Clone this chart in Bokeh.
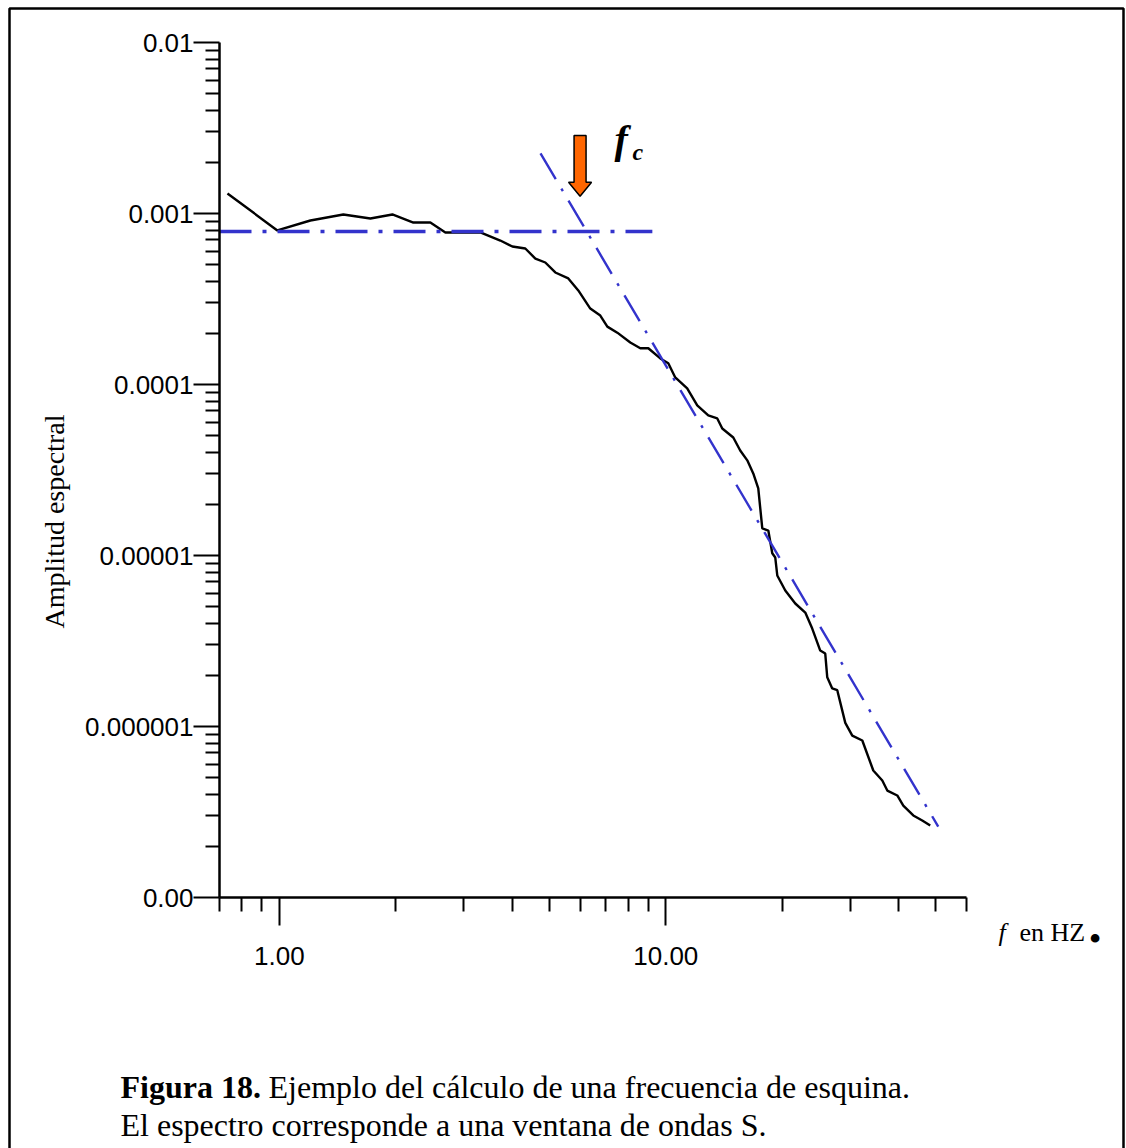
from bokeh.plotting import figure
from bokeh.models import FixedTicker, CustomJSTickFormatter, Label, BoxAnnotation, Range1d
from bokeh.embed import file_html
from bokeh.resources import INLINE
import math

# ---------------- data ----------------
freq = [0.734, 0.988, 1.203, 1.464, 1.720, 1.961, 2.222, 2.459, 2.689, 3.312,
        3.731, 4.008, 4.330, 4.597, 4.878, 5.177, 5.594, 5.937, 6.377, 6.769,
        7.058, 7.491, 8.093, 8.591, 9.011, 9.678, 10.15, 10.58, 11.36, 12.06,
        12.88, 13.59, 14.00, 14.95, 15.58, 16.25, 16.84, 17.35, 17.77, 18.42,
        18.86, 19.20, 19.43, 20.38, 21.63, 22.96, 23.93, 25.10, 25.86, 26.17,
        26.96, 27.78, 29.14, 30.38, 32.25, 34.43, 36.33, 37.43, 39.72, 41.17,
        43.70, 46.09, 48.34]
amp = [1.31e-3, 7.96e-4, 9.10e-4, 9.87e-4, 9.35e-4, 9.87e-4, 8.85e-4, 8.85e-4, 7.75e-4, 7.75e-4,
       6.95e-4, 6.41e-4, 6.24e-4, 5.45e-4, 5.17e-4, 4.52e-4, 4.17e-4, 3.55e-4, 2.78e-4, 2.53e-4,
       2.18e-4, 2.01e-4, 1.76e-4, 1.63e-4, 1.63e-4, 1.42e-4, 1.33e-4, 1.10e-4, 9.48e-5, 7.54e-5,
       6.59e-5, 6.33e-5, 5.53e-5, 4.90e-5, 4.11e-5, 3.60e-5, 3.02e-5, 2.47e-5, 1.44e-5, 1.40e-5,
       1.03e-5, 9.73e-6, 7.64e-6, 6.24e-6, 5.24e-6, 4.64e-6, 3.74e-6, 2.78e-6, 2.67e-6, 1.94e-6,
       1.67e-6, 1.63e-6, 1.05e-6, 8.85e-7, 8.28e-7, 5.53e-7, 4.83e-7, 4.22e-7, 3.95e-7, 3.45e-7,
       3.02e-7, 2.82e-7, 2.64e-7]

plateau_f = [0.7, 9.23]
plateau_amp = [7.85e-4, 7.85e-4]
slope_f = [4.74, 50.7]
slope_amp = [2.25e-3, 2.60e-7]

fc = 6.0
arrow_top = 2.86e-3
arrow_tip = 1.26e-3

x_bounds = (0.7, 60)
y_bounds = (1e-7, 1e-2)
x_major = [1, 10]
x_labels = ["1.00", "10.00"]
x_minor = [0.7, 0.8, 0.9, 2, 3, 4, 5, 6, 7, 8, 9, 20, 30, 40, 50, 60]
y_major = [1e-7, 1e-6, 1e-5, 1e-4, 1e-3, 1e-2]
y_labels = ["0.00", "0.000001", "0.00001", "0.0001", "0.001", "0.01"]
y_minor = [k * 10.0 ** e for e in range(-7, -2) for k in range(2, 10)]

# ---------------- layout (pixels) ----------------
W, H = 1126, 1148
AX_L, AX_R, AX_T, AX_B = 219, 966, 42, 897      # where the axes box sits on the page
BLUE = "#3333cc"

pxd_x = (AX_R - AX_L) / math.log10(x_bounds[1] / x_bounds[0])
pxd_y = (AX_B - AX_T) / math.log10(y_bounds[1] / y_bounds[0])
x_lo = x_bounds[0] / 10 ** (AX_L / pxd_x)
x_hi = x_bounds[1] * 10 ** ((W - AX_R) / pxd_x)
y_lo = y_bounds[0] / 10 ** ((H - AX_B) / pxd_y)
y_hi = y_bounds[1] * 10 ** (AX_T / pxd_y)

p = figure(x_axis_type="log", y_axis_type="log",
           x_range=Range1d(x_lo, x_hi), y_range=Range1d(y_lo, y_hi),
           width=W, height=H, min_border=0,
           output_backend="svg", toolbar_location=None)
p.xgrid.visible = False
p.ygrid.visible = False
p.outline_line_color = None
p.background_fill_color = "white"
p.border_fill_color = "white"

fmt_code = """
for (let i = 0; i < vals.length; i++) {
  if (Math.abs(Math.log10(tick) - Math.log10(vals[i])) < 1e-6) return labs[i];
}
return '';
"""
p.xaxis.fixed_location = y_bounds[0]
p.yaxis.fixed_location = x_bounds[0]
p.xaxis.bounds = x_bounds
p.yaxis.bounds = y_bounds
p.xaxis.ticker = FixedTicker(ticks=x_major, minor_ticks=x_minor)
p.xaxis.formatter = CustomJSTickFormatter(args=dict(vals=x_major, labs=x_labels), code=fmt_code)
p.yaxis.ticker = FixedTicker(ticks=y_major, minor_ticks=y_minor)
p.yaxis.formatter = CustomJSTickFormatter(args=dict(vals=y_major, labs=y_labels), code=fmt_code)

for ax in (p.xaxis, p.yaxis):
    ax.axis_line_width = 2.5
    ax.axis_line_color = "black"
    ax.major_tick_line_width = 2
    ax.minor_tick_line_width = 2
    ax.major_tick_line_color = "black"
    ax.minor_tick_line_color = "black"
    ax.major_tick_in = 0
    ax.minor_tick_in = 0
    ax.minor_tick_out = 14
    ax.major_label_text_font = "Liberation Sans"
    ax.major_label_text_font_size = "26px"
    ax.major_label_text_color = "black"
p.xaxis.major_tick_out = 28
p.yaxis.major_tick_out = 26
p.xaxis.major_label_standoff = 21
p.yaxis.major_label_standoff = 0

# spectrum
p.line(freq, amp, line_color="black", line_width=2.4)
# fitted lines
p.line(plateau_f, plateau_amp, line_color=BLUE, line_width=3.4, line_dash="32 11 4 11")
p.line(slope_f, slope_amp, line_color=BLUE, line_width=2.4, line_dash="30 11 3 11")

# orange arrow pointing at fc
lx = math.log10(fc)
ds, dh = 6 / pxd_x, 11.5 / pxd_x
ltop = math.log10(arrow_top)
ltip = math.log10(arrow_tip)
lhb = ltip + 14 / pxd_y
poly = [(lx - ds, ltop), (lx + ds, ltop), (lx + ds, lhb), (lx + dh, lhb),
        (lx, ltip), (lx - dh, lhb), (lx - ds, lhb)]
p.patch([10 ** a for a, b in poly], [10 ** b for a, b in poly],
        fill_color="#ff6600", line_color="black", line_width=1.5)

# ---------------- texts ----------------
def add_label(cx, cy, text, size, style="normal", font="Liberation Serif",
              align="left", baseline="alphabetic", angle=0):
    # cy is the wanted baseline on the page; Bokeh draws ~0.34em lower
    shift = 0.34 * size if baseline == "alphabetic" else 0
    p.add_layout(Label(x=cx, y=H - (cy - shift), x_units="screen", y_units="screen",
                       text=text, text_font=font, text_font_size=f"{size}px",
                       text_font_style=style, text_color="black",
                       text_align=align, text_baseline=baseline, angle=angle))

add_label(614, 153, "f", 40, "bold italic")
add_label(632, 160, "c", 24, "bold italic")

add_label(54, 521, "Amplitud espectral", 28, align="center",
          baseline="middle", angle=math.pi / 2)

add_label(998, 941, "f", 26, "italic")
add_label(1019, 941, "en HZ", 26)
add_label(1089, 948, "\u2022", 32, "bold")

add_label(120, 1097, "Figura 18.", 32, "bold")
add_label(268, 1097, "Ejemplo del cálculo de una  frecuencia de esquina.", 32)
add_label(120, 1135, "El espectro corresponde a una ventana de ondas S.", 32)

# outer border
p.add_layout(BoxAnnotation(left=9, right=1123, top=H - 8, bottom=-20,
                           left_units="screen", right_units="screen",
                           top_units="screen", bottom_units="screen",
                           fill_alpha=0, line_color="black", line_alpha=1.0,
                           line_width=2.5))

open("out.html", "w").write(file_html(p, INLINE))
